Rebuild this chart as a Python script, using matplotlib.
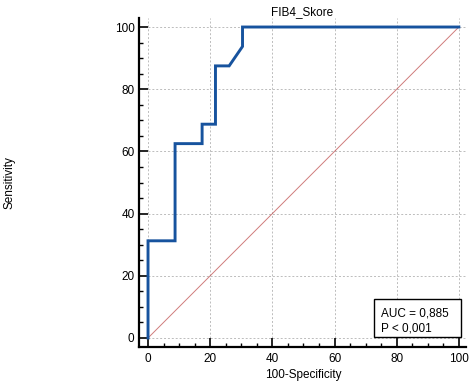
import matplotlib
matplotlib.use("Agg")
import matplotlib.pyplot as plt
from matplotlib.ticker import MultipleLocator
from matplotlib.patches import Rectangle

plt.rcParams['font.family'] = ['Liberation Sans', 'DejaVu Sans']

# ROC curve data (100-Specificity, Sensitivity)
fpr = [0, 0, 8.7, 8.7, 17.4, 17.4, 21.7, 21.7, 26.1, 30.4, 30.4, 100]
tpr = [0, 31.25, 31.25, 62.5, 62.5, 68.75, 68.75, 87.5, 87.5, 93.75, 100, 100]
diag = [0, 100]
major_ticks = [0, 20, 40, 60, 80, 100]
title = "FIB4_Skore"
auc_lines = ["AUC = 0,885", "P < 0,001"]

fig = plt.figure(figsize=(4.69, 3.88), dpi=100)
ax = fig.add_axes([138.7/469, 1-347/388, (466-138.7)/469, (347-18)/388])
xmin, xmax = -3.0, 102.3
ymin, ymax = -2.9, 102.9
ax.set_xlim(xmin, xmax)
ax.set_ylim(ymin, ymax)

# grid lines
for t in major_ticks:
    ax.plot([t, t], [0, ymax], color='#bcbcbc', lw=0.7, ls=(0, (2, 2)), zorder=1, clip_on=False)
    ax.plot([0, xmax], [t, t], color='#bcbcbc', lw=0.7, ls=(0, (2, 2)), zorder=1, clip_on=False)

ax.plot(diag, diag, color='#c05050', lw=0.7, alpha=0.75, zorder=2)
ax.plot(fpr, tpr, color='#17539e', lw=2.1, zorder=3, clip_on=False, solid_joinstyle='miter')

for s in ['top', 'right']:
    ax.spines[s].set_visible(False)
for s in ['left', 'bottom']:
    ax.spines[s].set_linewidth(1.6)

ax.set_xticks(major_ticks)
ax.set_yticks(major_ticks)
ax.xaxis.set_minor_locator(MultipleLocator(5))
ax.yaxis.set_minor_locator(MultipleLocator(5))
ax.tick_params(which='major', direction='in', length=6.6, width=1.2, labelsize=8.5, pad=4)
ax.tick_params(which='minor', direction='in', length=3.2, width=1.0)
ax.tick_params(axis='y', which='major', pad=3)

ax.set_title(title, fontsize=8.5, pad=0.5)
fig.text(303.5/469, 1-375/388, "100-Specificity", ha='center', va='center', fontsize=8.5)
fig.text(10/469, 1-183/388, "Sensitivity", ha='center', va='center', rotation=90, fontsize=8.5)

ax.add_patch(Rectangle((0.720, 0.0313), 0.985-0.720, 0.1459-0.0313, transform=ax.transAxes,
                       facecolor='white', edgecolor='black', linewidth=1.0, zorder=5, clip_on=False))
ax.text(0.7405, 0.0942, auc_lines[0], transform=ax.transAxes, fontsize=8.5,
        ha='left', va='baseline', zorder=6)
ax.text(0.7405, 0.0486, auc_lines[1], transform=ax.transAxes, fontsize=8.5,
        ha='left', va='baseline', zorder=6)

fig.savefig('out.png', dpi=100)
